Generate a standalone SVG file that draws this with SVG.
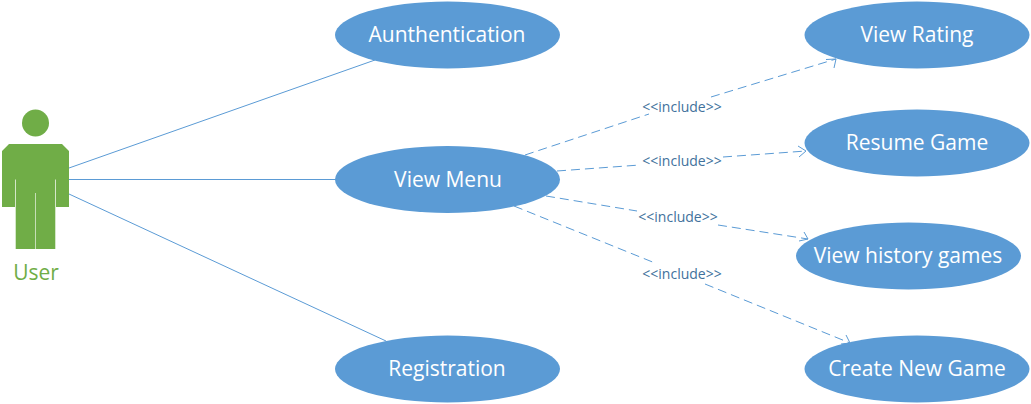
<svg xmlns="http://www.w3.org/2000/svg" width="1031" height="404" viewBox="0 0 1031 404">
<style>
.uc{fill:#5b9bd5}
.t{font-family:"Open Sans","Noto Sans",sans-serif;font-size:21px;fill:#fff;text-anchor:middle}
.l{font-family:"Open Sans","Noto Sans",sans-serif;font-size:14px;fill:#41719c;text-anchor:middle}
.a{stroke:#5b9bd5;stroke-width:1;fill:none}
.d{stroke:#5b9bd5;stroke-width:1;fill:none;stroke-dasharray:9 5;}
.h{stroke:#5b9bd5;stroke-width:1;fill:none}
</style>
<rect width="1031" height="404" fill="#fff"/>
<g id="connectors">
<path class="a" d="M69 168L375 60M69 179.500H335M69 194L386 341"/>
<path class="d" d="M525 155L649 114M711 97L836 59"/>
<path class="h" d="M826 59.500L836 59L834 68"/>
<path class="d" d="M557 171L640 165M723 157L806 151"/>
<path class="h" d="M798 146L806 151L799 157"/>
<path class="d" d="M546 196L637 211M718 225L808 239"/>
<path class="h" d="M804 232L808 239L799 241"/>
<path class="d" d="M514 206L655 263M705 284L850 343"/>
<path class="h" d="M846 335L850 343L841 344"/>
</g>
<g id="user">
<circle cx="35.500" cy="123" r="13.500" fill="#70ad47"/>
<path d="M9 144H62L69 151V207H56V179.500H55.300V249H35.800V193H35.200V249H15.700V179.500H15V207H2V151Z" fill="#70ad47"/>
<text x="36" y="280" font-family="'Open Sans','Noto Sans',sans-serif" font-size="21" fill="#70ad47" text-anchor="middle">User</text>
</g>
<g id="authentication"><ellipse class="uc" cx="447.500" cy="35" rx="112.500" ry="33.500"/><text class="t" x="447" y="42">Aunthentication</text></g>
<g id="view-menu"><ellipse class="uc" cx="447.500" cy="179.500" rx="112.500" ry="33.500"/><text class="t" x="448" y="186.500">View Menu</text></g>
<g id="registration"><ellipse class="uc" cx="447.500" cy="369" rx="112.500" ry="33.500"/><text class="t" x="447" y="376">Registration</text></g>
<g id="view-rating"><ellipse class="uc" cx="917" cy="35" rx="112.500" ry="33.500"/><text class="t" x="917" y="42">View Rating</text></g>
<g id="resume-game"><ellipse class="uc" cx="917" cy="143" rx="112.500" ry="33.500"/><text class="t" x="917" y="150">Resume Game</text></g>
<g id="view-history-games"><ellipse class="uc" cx="908.500" cy="256" rx="112.500" ry="33.500"/><text class="t" x="908" y="263">View history games</text></g>
<g id="create-new-game"><ellipse class="uc" cx="917" cy="369" rx="112.500" ry="33.500"/><text class="t" x="917" y="376">Create New Game</text></g>
<g id="labels">
<text class="l" x="682" y="112">&lt;&lt;include&gt;&gt;</text>
<text class="l" x="682" y="166">&lt;&lt;include&gt;&gt;</text>
<text class="l" x="678" y="222">&lt;&lt;include&gt;&gt;</text>
<text class="l" x="682" y="279">&lt;&lt;include&gt;&gt;</text>
</g>
</svg>
